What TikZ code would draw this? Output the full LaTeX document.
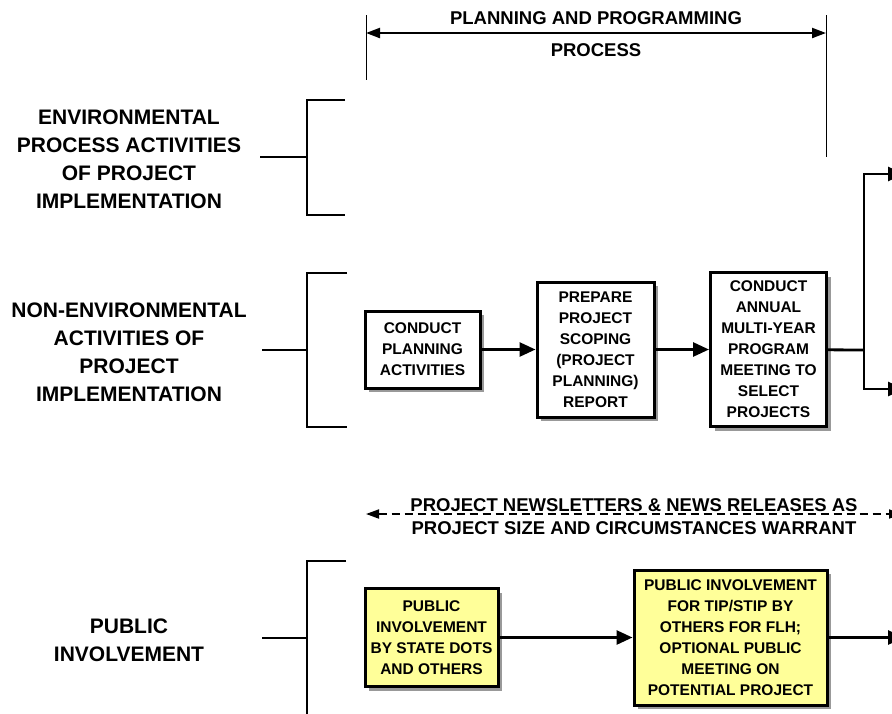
\documentclass[tikz,border=0pt]{standalone}
\usepackage{fontspec}
\setmainfont{Liberation Sans}
\usetikzlibrary{positioning,arrows.meta,shadows}
\definecolor{paleyellow}{RGB}{255,255,153}
\tikzset{>={Triangle[length=16pt,width=14pt]}, % filled arrow heads
x=1pt, y=-1pt, % one unit is one pixel of the page, y runs down
node distance=173pt, % distance between the centres of the boxes
box/.style={draw, line width=3pt, fill=white, align=center, inner sep=0pt,
  font=\fontsize{15.5}{21}\selectfont\bfseries,
  drop shadow={shadow xshift=4pt, shadow yshift=-4pt, fill=black!40, opacity=1}}, % boxes of the chart
pubbox/.style={box, fill=paleyellow}, % public involvement boxes
rowlabel/.style={align=center, font=\fontsize{21}{28}\selectfont\bfseries}, % text on the left
headtext/.style={align=center, font=\fontsize{18.5}{23}\selectfont\bfseries},
link/.style={line width=2.8pt},
}

\begin{document}
\begin{tikzpicture}
\useasboundingbox (0,0) rectangle (892,713);

% process span at the top
\coordinate (spanL) at (366,33);
\coordinate (spanR) at (826,33);
\draw[line width=1pt] (366,15) -- (366,80);
\draw[line width=1pt] (826,15) -- (826,157);
\draw[<->, line width=2.2pt, >={Triangle[length=14pt,width=10pt]}] (spanL) -- (spanR);
\node[headtext] (plantitle) at (596,18) {PLANNING AND PROGRAMMING};
\node[headtext] (proctitle) at (596,50) {PROCESS};

% row labels and brackets
\node[rowlabel] (envlabel) at (129,159) {ENVIRONMENTAL\\PROCESS ACTIVITIES\\OF PROJECT\\IMPLEMENTATION};
\node[rowlabel] (nonenvlabel) at (129,352) {NON-ENVIRONMENTAL\\ACTIVITIES OF\\PROJECT\\IMPLEMENTATION};
\node[rowlabel] (publabel) at (129,640) {PUBLIC\\INVOLVEMENT};

\draw[link] (345,100) -- (307,100) -- (307,215) -- (345,215);
\draw[link] (260,157) -- (307,157);
\draw[link] (347,273) -- (307,273) -- (307,427) -- (347,427);
\draw[link] (262,350) -- (307,350);
\draw[link] (346,561) -- (307,561) -- (307,716);
\draw[link] (262,638) -- (307,638);

% non-environmental activities
\node[box, minimum width=115pt, minimum height=77pt] (planning) at (422.5,349.5) {CONDUCT\\PLANNING\\ACTIVITIES};
\node[box, right of=planning, minimum width=117pt, minimum height=135pt] (scoping) {PREPARE\\PROJECT\\SCOPING\\(PROJECT\\PLANNING)\\REPORT};
\node[box, right of=scoping, minimum width=116pt, minimum height=154pt] (annual) {CONDUCT\\ANNUAL\\MULTI-YEAR\\PROGRAM\\MEETING TO\\SELECT\\PROJECTS};

\coordinate (fork) at (864,350);
\coordinate (outUp) at (904,174);
\coordinate (outDown) at (904,389);
\draw[link,->] (planning) -- (scoping);
\draw[link,->] (scoping) -- (annual);
\draw[link] (annual) -- (fork);
\draw[link,->] (fork) |- (outUp);
\draw[link,->] (fork) |- (outDown);

% newsletters
\coordinate (newsL) at (366,514);
\coordinate (newsR) at (902,514);
\draw[<->, line width=1.8pt, dash pattern=on 8pt off 5pt, >={Triangle[length=13pt,width=9pt]}] (newsL) -- (newsR);
\node[headtext] (news) at (634,517) {PROJECT NEWSLETTERS \& NEWS RELEASES AS\\PROJECT SIZE AND CIRCUMSTANCES WARRANT};

% public involvement
\node[pubbox, minimum width=133pt, minimum height=98pt] (statedots) at (431.5,637.5) {PUBLIC\\INVOLVEMENT\\BY STATE DOTS\\AND OTHERS};
\node[pubbox, right of=statedots, node distance=299pt, minimum width=193pt, minimum height=135pt] (tipstip) {PUBLIC INVOLVEMENT\\FOR TIP/STIP BY\\OTHERS FOR FLH;\\OPTIONAL PUBLIC\\MEETING ON\\POTENTIAL PROJECT};
\coordinate (pubOut) at (904,637.5);
\draw[link,->] (statedots) -- (tipstip);
\draw[link,->] (tipstip) -- (pubOut);
\end{tikzpicture}
\end{document}
